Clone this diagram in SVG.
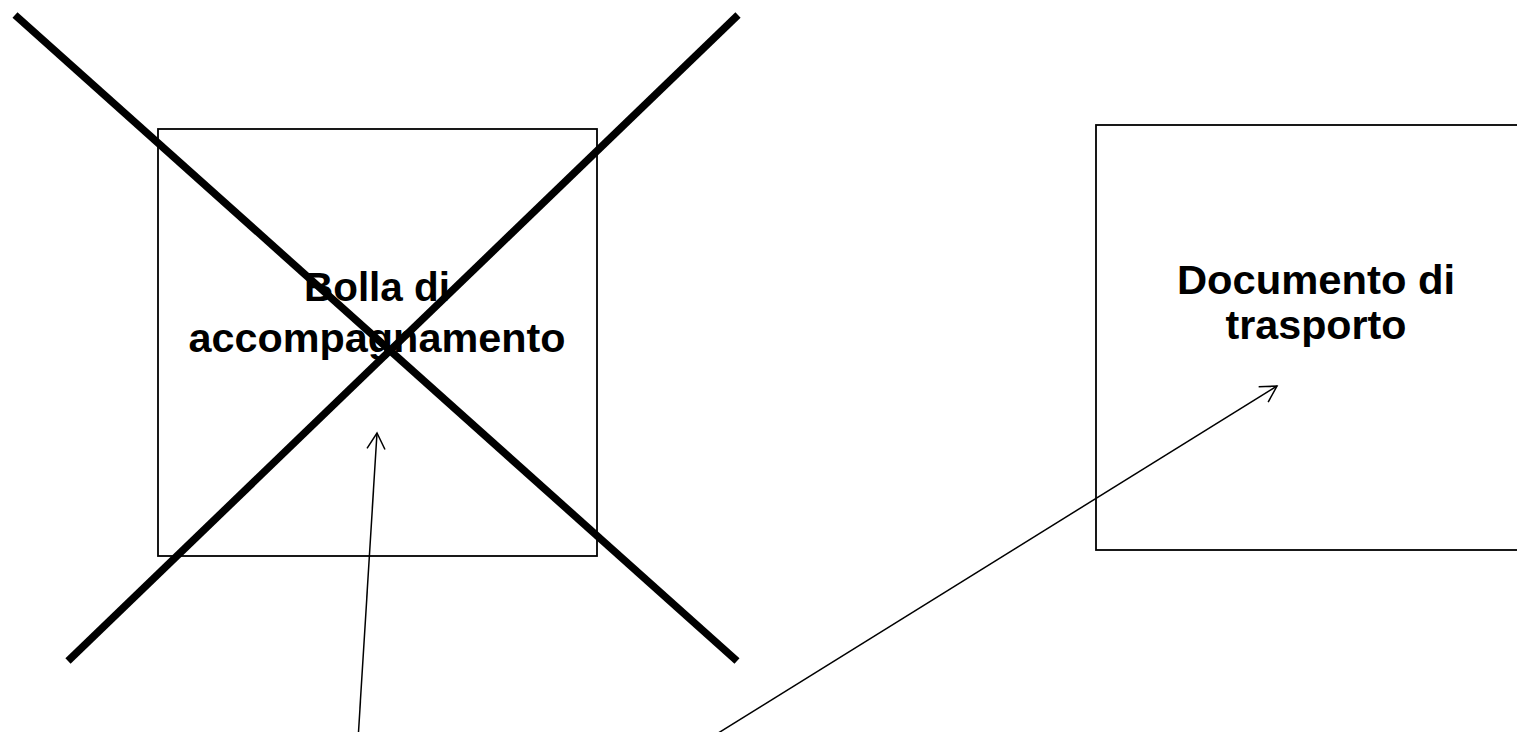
<svg xmlns="http://www.w3.org/2000/svg" width="1517" height="732" viewBox="0 0 1517 732">
<style>
.box{fill:#fff;stroke:#000;stroke-width:1.8}
.lbl{font-family:"Liberation Sans",Arial,sans-serif;font-weight:bold;font-size:41px;fill:#000;text-anchor:middle}
.cross{stroke:#000;stroke-width:7.5;fill:none}
.conn{stroke:#000;stroke-width:1.5;fill:none}
</style>
<defs>
<marker id="open" markerUnits="userSpaceOnUse" markerWidth="22" markerHeight="24" refX="18" refY="10" orient="auto" viewBox="0 0 22 20">
<path d="M2,1 L18,10 L2,19" fill="none" stroke="#000" stroke-width="1.5"/>
</marker>
</defs>
<rect width="1517" height="732" fill="#fff"/>
<g id="node-bolla">
<rect class="box" x="158" y="129" width="439" height="427"/>
<text class="lbl" x="377" y="301" textLength="146" lengthAdjust="spacingAndGlyphs">Bolla di</text>
<text class="lbl" x="377" y="352" textLength="377" lengthAdjust="spacingAndGlyphs">accompagnamento</text>
</g>
<g id="node-ddt">
<rect class="box" x="1096" y="125" width="450" height="425"/>
<text class="lbl" x="1316" y="294" textLength="278" lengthAdjust="spacingAndGlyphs">Documento di</text>
<text class="lbl" x="1316" y="339" textLength="181" lengthAdjust="spacingAndGlyphs">trasporto</text>
</g>
<g id="cross">
<line class="cross" x1="15" y1="15" x2="737" y2="661"/>
<line class="cross" x1="68" y1="661" x2="738" y2="15"/>
</g>
<g id="connectors">
<line class="conn" x1="358" y1="740" x2="377" y2="433" marker-end="url(#open)"/>
<line class="conn" x1="707" y1="740" x2="1277" y2="386" marker-end="url(#open)"/>
</g>
</svg>
